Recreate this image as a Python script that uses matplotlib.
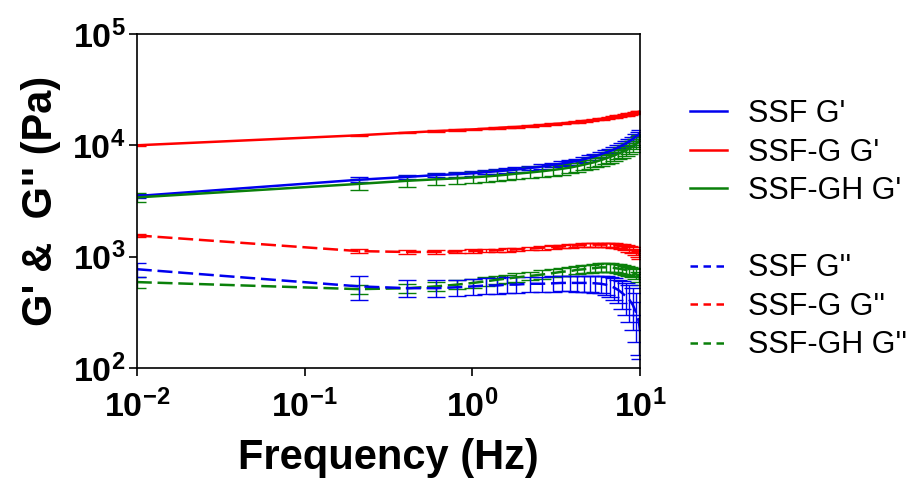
import matplotlib
matplotlib.use("Agg")
import matplotlib.pyplot as plt
import numpy as np
from matplotlib.ticker import FixedLocator, FuncFormatter, NullLocator

plt.rcParams['font.family'] = ['Liberation Sans', 'DejaVu Sans']
plt.rcParams['mathtext.fontset'] = 'custom'
plt.rcParams['mathtext.rm'] = 'Liberation Sans:bold'
plt.rcParams['mathtext.bf'] = 'Liberation Sans:bold'
plt.rcParams['mathtext.it'] = 'Liberation Sans:bold'

# frequency sweep (Hz)
freq = [0.01, 0.21, 0.41, 0.61, 0.81, 1.01, 1.21, 1.41, 1.61, 1.81, 2.21,
        2.61, 3.01, 3.41, 3.81, 4.21, 4.61, 5.01, 5.41, 5.81, 6.21, 6.61,
        7.01, 7.41, 7.81, 8.21, 8.61, 9.01, 9.41, 9.81, 10.0]

# storage modulus G' (Pa)
gp_ssf = [3500, 4900, 5200, 5400, 5500, 5600, 5750, 5850, 5950, 6050, 6250,
          6450, 6650, 6850, 7050, 7250, 7500, 7750, 8000, 8300, 8600, 8900,
          9200, 9600, 10000, 10400, 10900, 11400, 12000, 12600, 13000]
gp_ssf_g = [10000, 12300, 13000, 13400, 13700, 13900, 14100, 14300, 14500,
            14600, 14900, 15200, 15500, 15700, 16000, 16200, 16500, 16700,
            17000, 17200, 17500, 17800, 18000, 18300, 18600, 18800, 19100,
            19400, 19700, 20000, 20200]
gp_ssf_gh = [3400, 4500, 4800, 4950, 5050, 5150, 5250, 5350, 5450, 5550, 5700,
             5850, 6000, 6150, 6300, 6500, 6700, 6900, 7100, 7350, 7600, 7850,
             8100, 8400, 8700, 9000, 9400, 9800, 10300, 10800, 11200]

gp_ssf_err = [150, 250, 250, 260, 260, 270, 270, 280, 280, 290, 300, 300, 310,
              320, 330, 340, 350, 360, 380, 390, 400, 420, 430, 450, 470, 490,
              510, 540, 560, 590, 600]
gp_ssf_g_err = [150, 180, 190, 200, 200, 200, 210, 210, 210, 210, 220, 220,
                230, 230, 240, 240, 240, 250, 250, 260, 260, 270, 270, 280, 280,
                290, 290, 300, 300, 300, 310]
gp_ssf_gh_err = [300, 520, 540, 560, 570, 580, 590, 600, 610, 620, 640, 650,
                 670, 690, 700, 720, 740, 760, 780, 800, 830, 850, 880, 910,
                 940, 970, 1000, 1040, 1080, 1120, 1150]

# loss modulus G'' (Pa)
gpp_ssf = [770, 540, 520, 520, 530, 540, 550, 550, 560, 560, 570, 570, 575,
           580, 580, 580, 580, 580, 575, 570, 560, 545, 525, 500, 470, 440,
           410, 370, 320, 260, 210]
gpp_ssf_g = [1550, 1120, 1100, 1100, 1110, 1120, 1130, 1140, 1150, 1160, 1180,
             1200, 1220, 1230, 1250, 1260, 1270, 1280, 1280, 1280, 1280, 1270,
             1260, 1250, 1230, 1200, 1170, 1140, 1100, 1060, 1040]
gpp_ssf_gh = [590, 510, 520, 540, 560, 580, 600, 620, 635, 650, 670, 690, 710,
              730, 740, 760, 770, 780, 790, 800, 800, 800, 790, 780, 770, 760,
              740, 720, 700, 660, 630]

gpp_ssf_err = [110, 130, 90, 90, 90, 90, 90, 90, 90, 90, 90, 90, 90, 90, 90,
               95, 95, 95, 100, 100, 105, 110, 115, 120, 130, 140, 150, 150,
               150, 130, 90]
gpp_ssf_g_err = [50, 40, 40, 40, 40, 40, 40, 40, 40, 45, 45, 45, 45, 45, 50,
                 50, 50, 50, 55, 55, 55, 55, 60, 60, 60, 65, 65, 70, 70, 75, 80]
gpp_ssf_gh_err = [70, 50, 50, 50, 50, 55, 55, 55, 55, 60, 60, 60, 60, 60, 65,
                  65, 65, 65, 70, 70, 70, 70, 70, 70, 70, 70, 70, 70, 70, 70, 70]

labels = ["SSF G'", "SSF-G G'", "SSF-GH G'",
          "SSF G''", "SSF-G G''", "SSF-GH G''"]

BLUE, RED, GREEN = '#0000ee', '#ff0000', '#0a800a'
DASH = (0, (6, 2.3))


def main():
    fig = plt.figure(figsize=[9.12, 4.79], dpi=100)
    ax = fig.add_axes([0.150, 0.232, 0.552, 0.697])

    ebkw = dict(elinewidth=1.0, capsize=6.5, capthick=1.0)
    for y, err, col in [(gpp_ssf_g, gpp_ssf_g_err, RED),
                        (gpp_ssf_gh, gpp_ssf_gh_err, GREEN),
                        (gpp_ssf, gpp_ssf_err, BLUE)]:
        ax.errorbar(freq, y, yerr=err, color=col, lw=1.8, ls=DASH, **ebkw)
    for y, err, col in [(gp_ssf_g, gp_ssf_g_err, RED),
                        (gp_ssf, gp_ssf_err, BLUE),
                        (gp_ssf_gh, gp_ssf_gh_err, GREEN)]:
        ax.errorbar(freq, y, yerr=err, color=col, lw=1.8, **ebkw)

    ax.set_xscale('log')
    ax.set_yscale('log')
    ax.set_xlim(0.01, 10)
    ax.set_ylim(100, 1e5)

    ax.xaxis.set_major_locator(FixedLocator([0.01, 0.1, 1, 10]))
    ax.yaxis.set_major_locator(FixedLocator([1e2, 1e3, 1e4, 1e5]))
    ax.xaxis.set_minor_locator(NullLocator())
    ax.yaxis.set_minor_locator(NullLocator())
    fmt = FuncFormatter(lambda v, p: r'$\mathbf{10^{%d}}$' % round(np.log10(v)))
    ax.xaxis.set_major_formatter(fmt)
    ax.yaxis.set_major_formatter(fmt)
    ax.tick_params(axis='both', which='major', direction='out', length=6,
                   width=1.2, labelsize=24.5)
    ax.tick_params(axis='x', pad=10)
    ax.tick_params(axis='y', pad=2)
    for s in ax.spines.values():
        s.set_linewidth(1.2)

    ax.set_xlabel('Frequency (Hz)', fontsize=30, fontweight='bold', labelpad=10)
    ax.set_ylabel("G' &  G'' (Pa)", fontsize=30, fontweight='bold', labelpad=8)

    # legend: solid G' group, a blank row, then dashed G'' group
    handles = [plt.Line2D([], [], color=c, lw=1.8) for c in (BLUE, RED, GREEN)]
    handles.append(plt.Line2D([], [], color='none'))
    handles += [plt.Line2D([], [], color=c, lw=1.8, ls=(0, (3, 2.2)))
                for c in (BLUE, RED, GREEN)]
    names = labels[:3] + [' '] + labels[3:]
    fig.legend(handles, names, frameon=False, fontsize=22, handlelength=1.2,
               handletextpad=0.69, labelspacing=0.28, borderpad=0,
               borderaxespad=0, loc='upper left',
               bbox_to_anchor=(690 / 912, 1 - 99 / 479))

    fig.savefig('out.png', dpi=100)


if __name__ == '__main__':
    main()
